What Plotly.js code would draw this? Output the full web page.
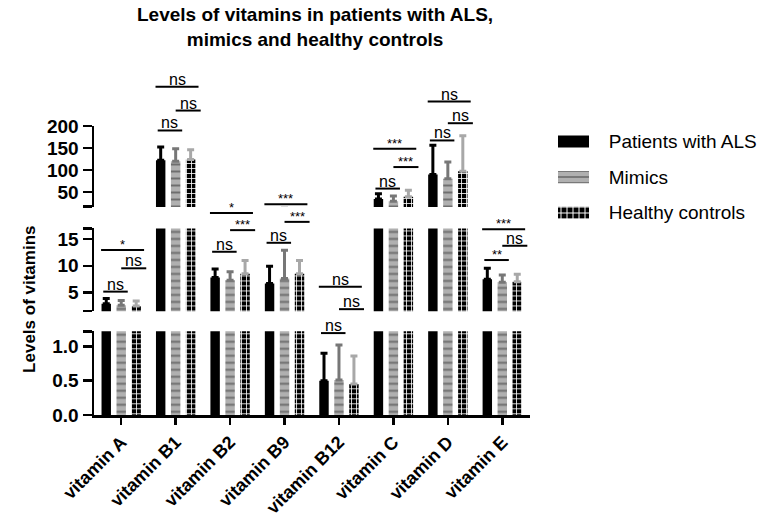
<!DOCTYPE html>
<html>
<head>
<meta charset="utf-8">
<script src="https://cdn.plot.ly/plotly-3.0.1.min.js"></script>
<style>html,body{margin:0;padding:0;background:#fff}</style>
</head>
<body>
<div id="chart" style="width:765px;height:521px"></div>
<script>
// categories and groups
const vitamins = ['vitamin A', 'vitamin B1', 'vitamin B2', 'vitamin B9', 'vitamin B12', 'vitamin C', 'vitamin D', 'vitamin E'];
const groupNames = ['Patients with ALS', 'Mimics', 'Healthy controls'];

// means and upper error
const alsMean = [2.9, 122, 7.8, 6.7, 0.50, 34, 90, 7.5];
const alsErr = [0.95, 30, 1.6, 3.2, 0.40, 12, 66, 2.05];
const mimMean = [2.6, 120, 7.3, 7.6, 0.51, 29, 80, 6.9];
const mimErr = [0.9, 28, 1.6, 5.3, 0.51, 12, 38, 1.4];
const hcMean = [2.45, 124, 8.5, 8.5, 0.45, 39, 97, 7.0];
const hcErr = [0.95, 22, 2.5, 2.5, 0.41, 15, 81, 1.4];

// significance labels per vitamin: [ALS vs Mimics, Mimics vs HC, ALS vs HC]
const sigLabels = [
  ['ns', 'ns', '*'],
  ['ns', 'ns', 'ns'],
  ['ns', '***', '*'],
  ['ns', '***', '***'],
  ['ns', 'ns', 'ns'],
  ['ns', '***', '***'],
  ['ns', 'ns', 'ns'],
  ['**', 'ns', '***']
];
// bracket heights, pixels from the top of the figure
const sigPx = [
  [291.7, 268.3, 250],
  [130, 110, 86],
  [251.7, 230, 212.7],
  [242.7, 221.7, 204],
  [333.3, 309.3, 286.7],
  [188.3, 166.7, 148.3],
  [140, 122.7, 101],
  [260, 245.7, 229]
];

const FONT = 'Liberation Sans, Arial, sans-serif';
const W = 765, H = 521;
const plotLeft = 94, plotTop = 125.5, plotBottom = 415.5;
const plotW = W - plotLeft - 5, plotH = plotBottom - plotTop;
const toPaper = function (py) { return (plotBottom - py) / plotH; };
const toPaperX = function (px) { return (px - plotLeft) / plotW; };

function mimMarker(size) {
  return {color: '#b0b0b0', line: {width: 0},
    pattern: {shape: '-', fgcolor: '#6e6e6e', bgcolor: '#b0b0b0', size: size, solidity: 0.28, fillmode: 'replace'}};
}
function hcMarker(size) {
  return {color: '#000000', line: {width: 0},
    pattern: {shape: '+', fgcolor: '#ffffff', bgcolor: '#000000', size: size, solidity: 0.3, fillmode: 'replace'}};
}

const groups = [
  {mean: alsMean, err: alsErr, marker: {color: '#000000', line: {width: 0}}, key: {color: '#000000', line: {width: 0}}, errColor: '#000000'},
  {mean: mimMean, err: mimErr, marker: mimMarker(7), key: mimMarker(6), errColor: '#777777'},
  {mean: hcMean, err: hcErr, marker: hcMarker(5), key: hcMarker(6), errColor: '#a8a8a8'}
];

// one copy of every bar series per axis segment (broken y axis)
const yAxesIds = ['y', 'y2', 'y3'];
let data = [];
yAxesIds.forEach(function (ya) {
  groups.forEach(function (g, i) {
    data.push({
      type: 'bar',
      x: vitamins,
      y: g.mean,
      yaxis: ya,
      xaxis: 'x',
      name: groupNames[i],
      showlegend: false,
      marker: g.marker,
      hoverinfo: 'skip',
      error_y: {
        type: 'data', symmetric: false, array: g.err,
        arrayminus: g.err.map(function () { return 0; }),
        color: g.errColor, thickness: 3, width: 3.5
      }
    });
  });
});

// legend drawn as its own little bar panel so the keys are wide rectangles
groups.forEach(function (g, i) {
  data.push({
    type: 'bar', orientation: 'h', xaxis: 'x2', yaxis: 'y4', offsetgroup: 'key',
    y: [groupNames[i]], x: [1], width: 0.34, hoverinfo: 'skip', showlegend: false,
    name: groupNames[i], marker: g.key
  });
});

// significance brackets
const pairSpan = [[-0.33, 0.12], [0.0, 0.46], [-0.37, 0.42]];
let shapes = [];
let annotations = [];
sigLabels.forEach(function (labs, c) {
  labs.forEach(function (lab, p) {
    const x0 = c + pairSpan[p][0], x1 = c + pairSpan[p][1];
    const y = toPaper(sigPx[c][p]);
    shapes.push({type: 'line', xref: 'x', yref: 'paper', x0: x0, x1: x1, y0: y, y1: y,
      line: {color: '#000', width: 2}});
    const isStar = lab.indexOf('*') >= 0;
    annotations.push({
      xref: 'x', yref: 'paper', x: (x0 + x1) / 2, y: y, text: lab, showarrow: false,
      xanchor: 'center', yanchor: 'bottom', yshift: isStar ? -4 : -3,
      font: {family: FONT, size: isStar ? 13 : 16, color: '#000'}
    });
  });
});

annotations.push({
  xref: 'paper', yref: 'paper', x: toPaperX(30), y: toPaper(300), xanchor: 'center', yanchor: 'middle',
  text: '<b>Levels of vitamins</b>',
  textangle: -90, showarrow: false, font: {family: FONT, size: 17, color: '#000'}
});
annotations.push({
  xref: 'paper', yref: 'paper', x: toPaperX(315), y: toPaper(1), xanchor: 'center', yanchor: 'top',
  text: '<b>Levels of vitamins in patients with ALS,<br>mimics and healthy controls</b>',
  showarrow: false, font: {family: FONT, size: 19, color: '#000'}
});

const yCommon = {
  showline: true, linecolor: '#000', linewidth: 2.5, ticks: 'outside', ticklen: 9, tickwidth: 2.5,
  tickcolor: '#000', showgrid: false, zeroline: false, anchor: 'x', fixedrange: true,
  tickfont: {family: FONT, size: 19, color: '#000', weight: 'bold'}
};

const legTop = 125.5, legBottom = 230.3;
const layout = {
  width: W, height: H,
  margin: {l: plotLeft, r: 5, t: plotTop, b: H - plotBottom, pad: 0},
  paper_bgcolor: '#fff', plot_bgcolor: '#fff',
  barmode: 'group', bargap: 0.175, bargroupgap: 0.37,
  xaxis: {
    type: 'category', range: [-0.5, 7.5], domain: [0, toPaperX(529.5)],
    showline: true, linecolor: '#000', linewidth: 2.5,
    ticks: 'outside', ticklen: 7, tickwidth: 2.5, tickcolor: '#000', tickangle: -45,
    tickfont: {family: FONT, size: 18, color: '#000', weight: 'bold'}, anchor: 'y', fixedrange: true
  },
  yaxis: Object.assign({}, yCommon, {
    domain: [0, toPaper(331.5)], range: [0, 1.22],
    tickvals: [0, 0.5, 1.0, 1.215], ticktext: ['0.0', '0.5', '1.0', '']
  }),
  yaxis2: Object.assign({}, yCommon, {
    domain: [toPaper(311.3), toPaper(228.3)], range: [1.5, 17],
    tickvals: [1.52, 5, 10, 15, 16.98], ticktext: ['', '5', '10', '15', '']
  }),
  yaxis3: Object.assign({}, yCommon, {
    domain: [toPaper(206.7), 1], range: [16, 200],
    tickvals: [16.5, 50, 100, 150, 200], ticktext: ['', '50', '100', '150', '200']
  }),
  xaxis2: {
    domain: [toPaperX(558), toPaperX(589)], range: [0, 1], anchor: 'y4',
    visible: false, fixedrange: true
  },
  yaxis4: {
    type: 'category', domain: [toPaper(legBottom), toPaper(legTop)],
    range: [2 + (legBottom - 212.5) / 35.75, (legTop - 141) / 35.75],
    anchor: 'x2', side: 'right', showline: false, showgrid: false, zeroline: false,
    ticks: 'outside', ticklen: 15, tickcolor: 'rgba(0,0,0,0)', fixedrange: true,
    tickfont: {family: FONT, size: 19, color: '#000'}
  },
  showlegend: false,
  shapes: shapes,
  annotations: annotations
};

Plotly.newPlot('chart', data, layout, {displayModeBar: false, staticPlot: true});
</script>
</body>
</html>
